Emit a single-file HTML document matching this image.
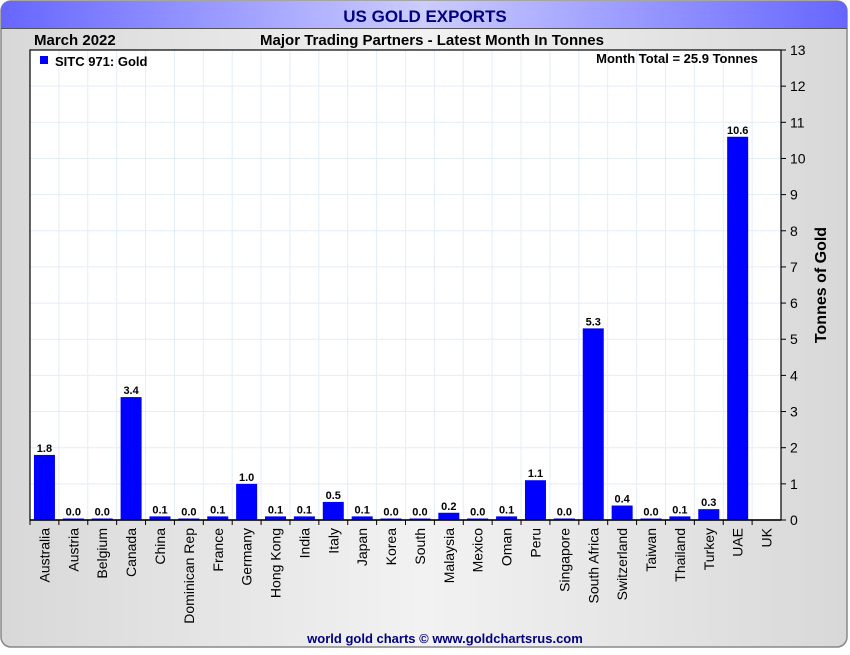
<!DOCTYPE html>
<html><head><meta charset="utf-8"><style>
body{margin:0;width:850px;height:650px;overflow:hidden;background:#fff;font-family:"Liberation Sans",Arial,sans-serif}
</style></head><body>
<svg id="c" width="850" height="650" xmlns="http://www.w3.org/2000/svg">
<defs>
<linearGradient id="tb" x1="0" x2="1"><stop offset="0" stop-color="#6666ff"/><stop offset="0.5" stop-color="#ccccff"/><stop offset="1" stop-color="#6666ff"/></linearGradient>
<linearGradient id="bg" x1="0" x2="1"><stop offset="0" stop-color="#d8d8d8"/><stop offset="0.5" stop-color="#f2f2f2"/><stop offset="1" stop-color="#d8d8d8"/></linearGradient>
</defs>
<rect x="1" y="1" width="846" height="646" rx="10" fill="url(#bg)" stroke="#888" stroke-width="1.5"/>
<path d="M1,28 L1,11 Q1,1 11,1 L837,1 Q847,1 847,11 L847,28 Z" fill="url(#tb)"/>
<line x1="1" y1="28.5" x2="847" y2="28.5" stroke="#555"/>
<text x="425" y="22" text-anchor="middle" font-size="17" font-weight="bold" fill="#000080">US GOLD EXPORTS</text>
<text x="34" y="45" font-size="15" font-weight="bold">March 2022</text>
<text x="432" y="45" text-anchor="middle" font-size="15" font-weight="bold">Major Trading Partners - Latest Month In Tonnes</text>
<rect x="30" y="50" width="751" height="470" fill="#fff"/>
<g id="grid"></g><g id="bars"></g><g id="axes"></g>
<rect x="30" y="50" width="751" height="470" fill="none" stroke="#000" stroke-width="1.2"/>
<rect x="40" y="56" width="8" height="8" fill="#0000ff"/>
<text x="55" y="66" font-size="13" font-weight="bold">SITC 971: Gold</text>
<text x="677" y="63" text-anchor="middle" font-size="13" font-weight="bold">Month Total = 25.9 Tonnes</text>
<text transform="translate(826,285) rotate(-90)" text-anchor="middle" font-size="16" font-weight="bold">Tonnes of Gold</text>
<text x="445" y="643" text-anchor="middle" font-size="13" font-weight="bold" fill="#000080">world gold charts © www.goldchartsrus.com</text>
</svg>
<script>
const categories=["Australia","Austria","Belgium","Canada","China","Dominican Rep","France","Germany","Hong Kong","India","Italy","Japan","Korea","South","Malaysia","Mexico","Oman","Peru","Singapore","South Africa","Switzerland","Taiwan","Thailand","Turkey","UAE","UK"];
const values=[1.8,0.0,0.0,3.4,0.1,0.0,0.1,1.0,0.1,0.1,0.5,0.1,0.0,0.0,0.2,0.0,0.1,1.1,0.0,5.3,0.4,0.0,0.1,0.3,10.6,null];
const yTicks=[0,1,2,3,4,5,6,7,8,9,10,11,12,13];
const NS="http://www.w3.org/2000/svg";
const L=30,R=781,T=50,B=520,yMax=13;
const bw=(R-L)/categories.length;
const y=v=>B-(v/yMax)*(B-T);
const xc=i=>L+bw*(i+0.5);
function mk(t,a,p){const e=document.createElementNS(NS,t);for(const k in a)e.setAttribute(k,a[k]);p.appendChild(e);return e;}
const grid=document.getElementById('grid'),bars=document.getElementById('bars'),axes=document.getElementById('axes');
yTicks.forEach(t=>{
  const gl=mk('line',{x1:L,x2:R,y1:y(t),y2:y(t),stroke:'#e3eef7'},grid);
  
  
  mk('line',{x1:R,x2:R+5,y1:y(t),y2:y(t),stroke:'#000'},axes);
  const tx=mk('text',{x:R+9,y:y(t)+5,'font-size':'14',fill:'#000'},axes);
  tx.textContent=t;
  
  
});
categories.forEach((c,i)=>{
  const xb=L+bw*i;
  if(i>0){const vl=mk('line',{x1:xb,x2:xb,y1:T,y2:B,stroke:'#e3eef7'},grid);
    
    }
  mk('line',{x1:xb,x2:xb,y1:B,y2:B+5,stroke:'#000'},axes);
  const lb=mk('text',{transform:`translate(${xc(i)+5},${B+8}) rotate(-90)`,'text-anchor':'end','font-size':'14',fill:'#000'},axes);
  lb.textContent=c;
  
  
  const v=values[i];
  if(v!==null){
    const top=Math.min(y(v),B-1.5);
    const r=mk('rect',{x:xc(i)-10.5,y:top,width:21,height:B-top,fill:'#0000ff'},bars);
    
    
    const vt=mk('text',{x:xc(i),y:top-3,'text-anchor':'middle','font-size':'11','font-weight':'bold',fill:'#000'},bars);
    vt.textContent=v.toFixed(1);
    
    
  }
});
mk('line',{x1:L,x2:R,y1:B,y2:B,stroke:'#000','stroke-width':1.5},axes);
</script>
</body></html>
